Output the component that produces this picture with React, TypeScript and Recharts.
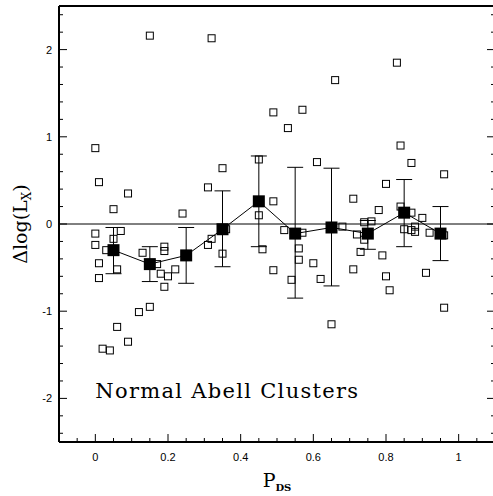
import { ScatterChart, Scatter, XAxis, YAxis, ReferenceLine, ReferenceDot, ErrorBar, Label } from 'recharts';

// individual clusters (open squares)
const pdsOpen = [
    0.0, 0.01, 0.0, 0.0, 0.01, 0.01, 0.02, 0.04, 0.03, 0.05,
    0.05, 0.07, 0.06, 0.09, 0.06, 0.09, 0.12, 0.15, 0.13, 0.15,
    0.17, 0.18, 0.2, 0.22, 0.19, 0.19, 0.19, 0.24, 0.31, 0.32,
    0.32, 0.31, 0.35, 0.36, 0.35, 0.45, 0.45, 0.46, 0.49, 0.49,
    0.53, 0.57, 0.49, 0.52, 0.57, 0.56, 0.56, 0.54, 0.6, 0.62,
    0.61, 0.65, 0.66, 0.68, 0.71, 0.71, 0.72, 0.73, 0.74, 0.76,
    0.74, 0.78, 0.8, 0.79, 0.8, 0.81, 0.83, 0.84, 0.84, 0.87,
    0.87, 0.9, 0.85, 0.87, 0.88, 0.88, 0.92, 0.96, 0.96, 0.91,
    0.96,
];
const dlxOpen = [
    0.87, 0.48, -0.11, -0.24, -0.45, -0.62, -1.43, -1.45, -0.3, 0.17,
    -0.17, -0.08, -0.52, 0.35, -1.18, -1.35, -1.01, -0.95, -0.33, 2.16,
    -0.46, -0.57, -0.6, -0.52, -0.72, -0.26, -0.31, 0.12, 0.42, 2.13,
    -0.17, -0.24, 0.64, -0.06, -0.34, 0.74, 0.1, -0.29, 0.26, 1.28,
    1.1, 1.31, -0.53, -0.07, -0.1, -0.28, -0.41, -0.64, -0.45, -0.63,
    0.71, -1.15, 1.65, -0.03, 0.29, -0.52, -0.12, -0.32, 0.02, 0.03,
    -0.18, 0.16, 0.46, -0.36, -0.6, -0.76, 1.85, 0.9, 0.2, 0.7,
    0.13, 0.07, -0.06, -0.07, -0.09, -0.03, -0.1, -0.13, 0.57, -0.56,
    -0.96,
];

// binned means (filled squares) with error bars
const binCenters = [0.05, 0.15, 0.25, 0.35, 0.45, 0.55, 0.65, 0.75, 0.85, 0.95];
const binMeans = [-0.3, -0.46, -0.36, -0.06, 0.26, -0.11, -0.04, -0.11, 0.13, -0.11];
const binUpper = [-0.04, -0.26, -0.04, 0.38, 0.78, 0.65, 0.64, 0.04, 0.51, 0.2];
const binLower = [-0.57, -0.66, -0.68, -0.49, -0.26, -0.85, -0.71, -0.29, -0.26, -0.42];

const xMajor = [0, 0.2, 0.4, 0.6, 0.8, 1];
const xTicks = [
    -0.05, 0, 0.05, 0.1, 0.15, 0.2, 0.25, 0.3, 0.35, 0.4, 0.45, 0.5,
    0.55, 0.6, 0.65, 0.7, 0.75, 0.8, 0.85, 0.9, 0.95, 1, 1.05,
];
const yMajor = [-2, -1, 0, 1, 2];
const yTicks = [
    -2.4, -2.2, -2, -1.8, -1.6, -1.4, -1.2, -1, -0.8, -0.6, -0.4, -0.2, 0,
    0.2, 0.4, 0.6, 0.8, 1, 1.2, 1.4, 1.6, 1.8, 2, 2.2, 2.4,
];

const openData = pdsOpen.map((x, i) => ({ x, y: dlxOpen[i] }));
const binData = binCenters.map((x, i) => ({
    x,
    y: binMeans[i],
    err: [binMeans[i] - binLower[i], binUpper[i] - binMeans[i]],
}));

const isMajor = (list: number[], v: number) => list.some((m) => Math.abs(m - v) < 1e-6);
const tickFont = "'Liberation Sans', Arial, sans-serif";
const serif = "'DejaVu Serif', serif";

const BottomTick = (props: any) => {
    const { x, y, payload } = props;
    const major = isMajor(xMajor, payload.value);
    return (
        <g>
            <line x1={x} y1={y} x2={x} y2={y - (major ? 8 : 4)} stroke="#000" strokeWidth={1} />
            {major && (
                <text x={x} y={y + 19} textAnchor="middle" fontSize={11} fontFamily={tickFont} fill="#000">
                    {String(payload.value)}
                </text>
            )}
        </g>
    );
};

const TopTick = (props: any) => {
    const { x, y, payload } = props;
    const major = isMajor(xMajor, payload.value);
    return <line x1={x} y1={y} x2={x} y2={y + (major ? 8 : 4)} stroke="#000" strokeWidth={1} />;
};

const LeftTick = (props: any) => {
    const { x, y, payload } = props;
    const major = isMajor(yMajor, payload.value);
    return (
        <g>
            <line x1={x} y1={y} x2={x + (major ? 8 : 4)} y2={y} stroke="#000" strokeWidth={1} />
            {major && (
                <text x={x - 7} y={y + 4} textAnchor="end" fontSize={11} fontFamily={tickFont} fill="#000">
                    {String(payload.value)}
                </text>
            )}
        </g>
    );
};

const RightTick = (props: any) => {
    const { x, y, payload } = props;
    const major = isMajor(yMajor, payload.value);
    return <line x1={x} y1={y} x2={x - (major ? 8 : 4)} y2={y} stroke="#000" strokeWidth={1} />;
};

const OpenSquare = (props: any) => (
    <rect x={props.cx - 3.5} y={props.cy - 3.5} width={7} height={7} fill="none" stroke="#000" strokeWidth={1} />
);

const FilledSquare = (props: any) => (
    <rect x={props.cx - 6} y={props.cy - 6} width={12} height={12} fill="#000" />
);

const PdsLabel = (props: any) => {
    const vb = props.viewBox;
    return (
        <text x={vb.x + vb.width / 2} y={vb.y + 45} textAnchor="middle" fontFamily={serif} fontSize={19} fill="#000">
            P
            <tspan fontSize={10} fontWeight="bold" dy={4}>DS</tspan>
        </text>
    );
};

const DlxLabel = (props: any) => {
    const vb = props.viewBox;
    const cy = vb.y + vb.height / 2;
    return (
        <text x={27} y={cy} transform={`rotate(-90, 27, ${cy})`} textAnchor="middle" fontFamily={serif} fontSize={19} fill="#000">
            Δlog(L
            <tspan fontSize={12} dy={4}>X</tspan>
            <tspan dy={-4}>)</tspan>
        </text>
    );
};

const TitleText = (props: any) => (
    <text x={props.cx} y={props.cy} fontFamily={serif} fontSize={21} letterSpacing={1.3} fill="#000">
        Normal Abell Clusters
    </text>
);

export default function App() {
    return (
        <div style={{ position: 'absolute', left: 0, top: 0, width: 493, height: 496, overflow: 'hidden', background: '#fff' }}>
            <ScatterChart width={500} height={496} margin={{ top: 5, right: 4, bottom: 0, left: 0 }}>
                <XAxis
                    xAxisId="b"
                    type="number"
                    dataKey="x"
                    domain={[-0.1, 1.1]}
                    ticks={xTicks}
                    interval={0}
                    height={54}
                    tickSize={0}
                    tickMargin={0}
                    tick={<BottomTick />}
                    tickLine={false}
                    axisLine={{ stroke: '#000', strokeWidth: 2 }}
                    allowDataOverflow
                >
                    <Label content={<PdsLabel />} />
                </XAxis>
                <XAxis
                    xAxisId="t"
                    orientation="top"
                    type="number"
                    domain={[-0.1, 1.1]}
                    ticks={xTicks}
                    interval={0}
                    height={1}
                    tickSize={0}
                    tickMargin={0}
                    tick={<TopTick />}
                    tickLine={false}
                    axisLine={{ stroke: '#000', strokeWidth: 2 }}
                    allowDataOverflow
                />
                <YAxis
                    yAxisId="l"
                    type="number"
                    dataKey="y"
                    domain={[-2.5, 2.5]}
                    ticks={yTicks}
                    interval={0}
                    width={59}
                    tickSize={0}
                    tickMargin={0}
                    tick={<LeftTick />}
                    tickLine={false}
                    axisLine={{ stroke: '#000', strokeWidth: 2 }}
                    allowDataOverflow
                >
                    <Label content={<DlxLabel />} />
                </YAxis>
                <YAxis
                    yAxisId="r"
                    orientation="right"
                    type="number"
                    domain={[-2.5, 2.5]}
                    ticks={yTicks}
                    interval={0}
                    width={1}
                    tickSize={0}
                    tickMargin={0}
                    tick={<RightTick />}
                    tickLine={false}
                    axisLine={{ stroke: '#000', strokeWidth: 2 }}
                    allowDataOverflow
                />
                <ReferenceLine xAxisId="b" yAxisId="l" y={0} stroke="#000" strokeWidth={1} />
                <Scatter
                    xAxisId="b"
                    yAxisId="l"
                    data={openData}
                    shape={<OpenSquare />}
                    isAnimationActive={false}
                />
                <Scatter
                    xAxisId="b"
                    yAxisId="l"
                    data={binData}
                    fill="#000"
                    shape={<FilledSquare />}
                    line={{ stroke: '#000', strokeWidth: 1 }}
                    isAnimationActive={false}
                >
                    <ErrorBar dataKey="err" direction="y" width={8} stroke="#000" strokeWidth={1} />
                </Scatter>
                <ReferenceDot xAxisId="b" yAxisId="l" x={0} y={-2} r={0} shape={<TitleText />} />
            </ScatterChart>
        </div>
    );
}
